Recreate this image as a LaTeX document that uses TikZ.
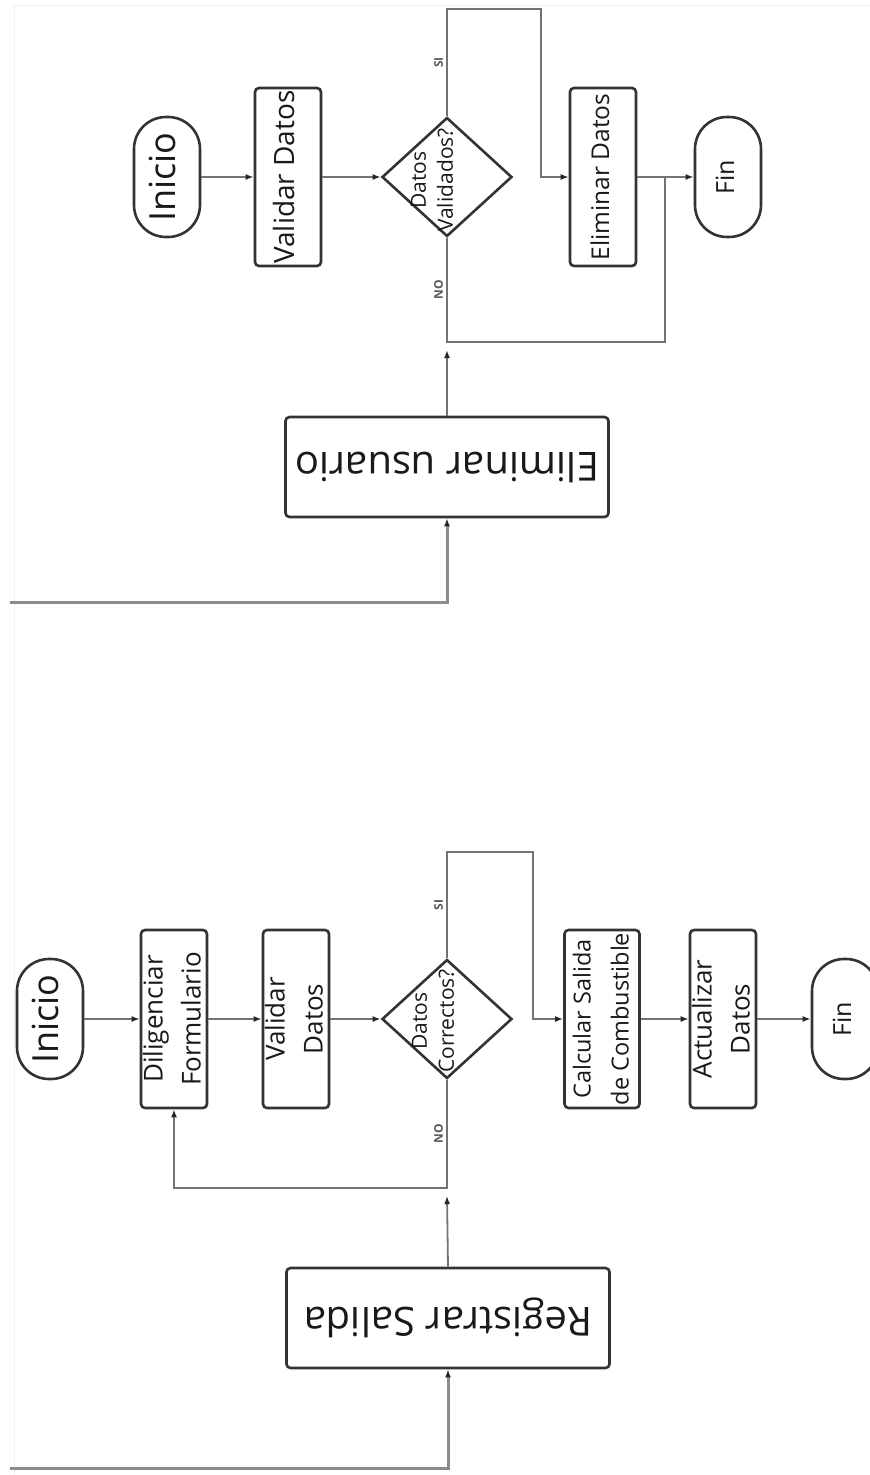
\documentclass[tikz,border=0pt]{standalone}
\usepackage{fontspec}
\setmainfont{Open Sans}
\usepackage{graphicx}
\usetikzlibrary{shapes.geometric,arrows.meta}

\newcommand{\vlab}[1]{\makebox[0pt]{\rotatebox{90}{\begin{tabular}{@{}c@{}}#1\end{tabular}}}}
\newcommand{\flip}[1]{\rotatebox{180}{#1}}

\begin{document}
\begin{tikzpicture}[x=1pt,y=-1pt,
  proc/.style={draw=black!80, line width=2.6pt, rounded corners=4pt, fill=white,
    minimum width=66pt, minimum height=178pt, inner sep=0pt, text=black!90},
  term/.style={proc, rounded corners=32pt, minimum height=120pt},
  dec/.style={diamond, draw=black!80, line width=2.6pt, fill=white,
    minimum width=130pt, minimum height=119pt, inner sep=0pt},
  link/.style={draw=black!55, line width=1.8pt},
  flow/.style={link, -{Latex[length=8pt,width=6pt,color=black!85]}},
  feed/.style={draw=black!45, line width=3pt, -{Latex[length=8pt,width=6pt,color=black!85]}},
  yn/.style={font=\fontsize{12}{13}\selectfont\bfseries, text=black!65, inner sep=3pt},
]
\useasboundingbox (0,0) rectangle (870,1475);
\def\ra{177}
\def\rb{1019}

% faint frame
\draw[black!6, line width=1pt] (14,1475) -- (14,5) -- (870,5);

% ---- eliminar usuario
\node[term, font=\fontsize{36}{40}\selectfont] (ini1) at (167,\ra) {\vlab{Inicio}};
\node[proc, font=\fontsize{28}{34}\selectfont] (val1) at (288,\ra) {\vlab{Validar Datos}};
\node[dec] (dec1) at (447,\ra) {};
\node[font=\fontsize{21}{27}\selectfont, text=black!90] (dec1t) at (434,180) {\vlab{Datos\\Validados?}};
\node[proc, font=\fontsize{24.5}{30}\selectfont] (eli1) at (603,\ra) {\vlab{Eliminar Datos}};
\node[term, font=\fontsize{25}{30}\selectfont] (fin1) at (728,\ra) {\vlab{Fin}};
\node[proc, minimum width=323pt, minimum height=100pt, font=\fontsize{40}{44}\selectfont] (euser) at (447,467) {\flip{Eliminar usuario}};

\coordinate (si1) at (541,9);
\coordinate (no1) at (665,342);
\coordinate (in1) at (447,350);
\coordinate (st1) at (10,602);

\draw[flow] (ini1) -- (val1);
\draw[flow] (val1) -- (dec1);
\draw[flow] (dec1.north) |- node[pos=.25, left, yn]{\rotatebox{90}{SI}} (si1) |- (eli1.west);
\draw[flow] (eli1) -- (fin1);
\draw[link] (dec1.south) |- node[pos=.25, left, yn]{\rotatebox{90}{NO}} (no1) -- (no1 |- fin1.west);
\draw[flow] (euser.north) -- (in1);
\draw[feed] (st1) -| (euser.south);

% ---- registrar salida
\node[term, font=\fontsize{36}{40}\selectfont] (ini2) at (50,\rb) {\vlab{Inicio}};
\node[proc, font=\fontsize{26}{38}\selectfont] (dil2) at (174,\rb) {\vlab{Diligenciar\\Formulario}};
\node[proc, font=\fontsize{26}{38}\selectfont] (val2) at (296,\rb) {\vlab{Validar\\Datos}};
\node[dec] (dec2) at (447,\rb) {};
\node[font=\fontsize{21}{27}\selectfont, text=black!90] (dec2t) at (435,1021) {\vlab{Datos\\Correctos?}};
\node[proc, minimum width=75pt, font=\fontsize{23.5}{38}\selectfont] (cal2) at (602,\rb) {\vlab{Calcular Salida\\de Combustible}};
\node[proc, font=\fontsize{26}{38}\selectfont] (act2) at (723,\rb) {\vlab{Actualizar\\Datos}};
\node[term, font=\fontsize{25}{30}\selectfont] (fin2) at (845,\rb) {\vlab{Fin}};
\node[proc, minimum width=323pt, minimum height=100pt, font=\fontsize{40}{44}\selectfont] (reg2) at (448,1318) {\flip{Registrar Salida}};

\coordinate (si2) at (533,852);
\coordinate (no2) at (174,1188);
\coordinate (in2) at (447,1196);
\coordinate (st2) at (10,1468);

\draw[flow] (ini2) -- (dil2);
\draw[flow] (dil2) -- (val2);
\draw[flow] (val2) -- (dec2);
\draw[flow] (dec2.north) |- node[pos=.25, left, yn]{\rotatebox{90}{SI}} (si2) |- (cal2.west);
\draw[flow] (cal2) -- (act2);
\draw[flow] (act2) -- (fin2);
\draw[flow] (dec2.south) |- node[pos=.25, left, yn]{\rotatebox{90}{NO}} (no2) -- (no2 |- dil2.south);
\draw[flow] (reg2.north) -- (in2);
\draw[feed] (st2) -| (reg2.south);
\end{tikzpicture}
\end{document}
